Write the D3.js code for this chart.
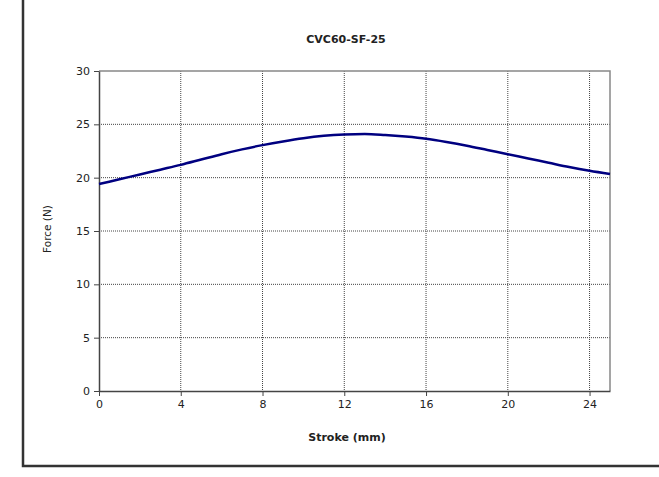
<!DOCTYPE html>
<html>
<head>
<meta charset="utf-8">
<script src="https://cdn.jsdelivr.net/npm/d3@7"></script>
<style>
  body { margin: 0; background: #fff; }
  svg { display: block; font-family: 'DejaVu Sans', sans-serif; }
</style>
</head>
<body>
<svg id="chart" width="659" height="477"></svg>
<script>
const stroke = [0, 1, 2, 3, 4, 5, 6, 7, 8, 9, 10, 11, 12, 13, 14, 15, 16, 17, 18, 19, 20, 21, 22, 23, 24, 25];
const force = [19.4, 19.85, 20.3, 20.75, 21.2, 21.7, 22.2, 22.65, 23.05, 23.4, 23.7, 23.92, 24.05, 24.1,
  24.0, 23.85, 23.65, 23.35, 23.0, 22.6, 22.2, 21.8, 21.4, 21.0, 20.65, 20.35];
const xTicks = [0, 4, 8, 12, 16, 20, 24];
const yTicks = [0, 5, 10, 15, 20, 25, 30];

const TITLE = 'CVC60-SF-25';
const X_LABEL = 'Stroke (mm)';
const Y_LABEL = 'Force (N)';

const LINE_COLOR = '#000080';
const GRID_COLOR = '#444';

const margin = { left: 99, right: 49, top: 71, bottom: 86 };
const svg = d3.select('#chart');
const width = 659 - margin.left - margin.right;
const height = 477 - margin.top - margin.bottom;

// outer frame (only left and bottom edges show)
svg.append('path')
  .attr('d', 'M23,0 V466 H659')
  .attr('fill', 'none')
  .attr('stroke', '#333')
  .attr('stroke-width', 2.5);

const g = svg.append('g').attr('transform', `translate(${margin.left},${margin.top})`);

const x = d3.scaleLinear().domain([0, 25]).range([0, width]);
const y = d3.scaleLinear().domain([0, 30]).range([height, 0]);

// grid
g.append('g')
  .selectAll('line')
  .data(yTicks.filter((d) => d > 0 && d < 30))
  .join('line')
  .attr('x1', 0)
  .attr('x2', width)
  .attr('y1', (d) => y(d))
  .attr('y2', (d) => y(d))
  .attr('stroke', GRID_COLOR)
  .attr('stroke-dasharray', '1,1');

g.append('g')
  .selectAll('line')
  .data(xTicks.filter((d) => d > 0))
  .join('line')
  .attr('x1', (d) => x(d))
  .attr('x2', (d) => x(d))
  .attr('y1', 0)
  .attr('y2', height)
  .attr('stroke', GRID_COLOR)
  .attr('stroke-dasharray', '1,1');

// top and right border
g.append('path')
  .attr('d', `M0,0 H${width} V${height}`)
  .attr('fill', 'none')
  .attr('stroke', '#888')
  .attr('stroke-width', 1.5);

// axes
const xAxis = g.append('g')
  .attr('transform', `translate(0,${height})`)
  .call(d3.axisBottom(x).tickValues(xTicks).tickSize(5).tickSizeOuter(0).tickPadding(4));
const yAxis = g.append('g')
  .call(d3.axisLeft(y).tickValues(yTicks).tickSize(5).tickSizeOuter(0).tickPadding(4));

[xAxis, yAxis].forEach((a) => {
  a.select('.domain').attr('stroke', '#444').attr('stroke-width', 1.5);
  a.selectAll('.tick line').attr('stroke', '#444');
  a.selectAll('.tick text')
    .attr('fill', '#222')
    .style('font-size', '11px')
    .style('font-family', "'DejaVu Sans', sans-serif");
});

// curve
const line = d3.line()
  .x((d, i) => x(stroke[i]))
  .y((d) => y(d))
  .curve(d3.curveMonotoneX);

g.append('path')
  .datum(force)
  .attr('d', line)
  .attr('fill', 'none')
  .attr('stroke', LINE_COLOR)
  .attr('stroke-width', 2.5);

// labels
svg.append('text')
  .attr('x', 346)
  .attr('y', 43)
  .attr('text-anchor', 'middle')
  .style('font-size', '11px')
  .style('font-weight', 'bold')
  .attr('fill', '#222')
  .text(TITLE);

svg.append('text')
  .attr('x', 347)
  .attr('y', 441)
  .attr('text-anchor', 'middle')
  .style('font-size', '11px')
  .style('font-weight', 'bold')
  .attr('fill', '#222')
  .text(X_LABEL);

svg.append('text')
  .attr('transform', 'translate(51,229) rotate(-90)')
  .attr('text-anchor', 'middle')
  .style('font-size', '10.5px')
  .attr('fill', '#222')
  .text(Y_LABEL);
</script>
</body>
</html>
